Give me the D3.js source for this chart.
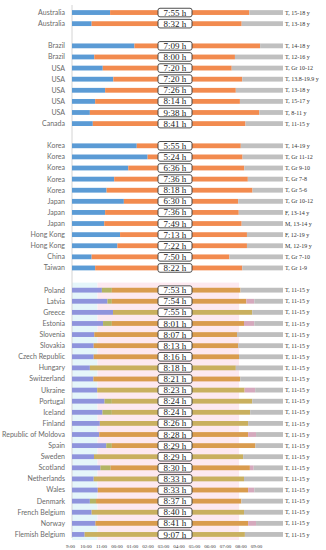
<!DOCTYPE html>
<html>
<head>
<meta charset="utf-8">
<script src="https://cdn.jsdelivr.net/npm/d3@7"></script>
<style>
  body { margin: 0; background: #fff; }
  svg { display: block; }
</style>
</head>
<body>
<svg id="chart"></svg>
<script>
const chartSize = { width: 326, height: 550 };

// rows, top to bottom, grouped (a blank slot between groups)
const groupSizes = [2, 8, 12, 23];
const countries = [
  "Australia", "Australia",
  "Brazil", "Brazil", "USA", "USA", "USA", "USA", "USA", "Canada",
  "Korea", "Korea", "Korea", "Korea", "Korea", "Japan", "Japan", "Japan",
  "Hong Kong", "Hong Kong", "China", "Taiwan",
  "Poland", "Latvia", "Greece", "Estonia", "Slovenia", "Slovakia",
  "Czech Republic", "Hungary", "Switzerland", "Ukraine", "Portugal", "Iceland",
  "Finland", "Republic of Moldova", "Spain", "Sweden", "Scotland", "Netherlands",
  "Wales", "Denmark", "French Belgium", "Norway", "Flemish Belgium"
];
const bedtimes = [
  "23:10", "22:07",
  "00:33", "22:16", "22:45", "23:21", "22:53", "22:19", "22:01", "22:11",
  "00:41", "01:18", "00:12", "23:24", "22:58", "23:57", "22:53", "22:50",
  "23:44", "23:35", "22:07", "22:19",
  "22:42", "23:01", "23:20", "22:46", "22:16", "22:14",
  "22:14", "22:01", "22:13", "22:26", "22:51", "22:44",
  "22:35", "22:33", "22:57", "22:15", "22:37", "22:14",
  "22:28", "22:01", "22:07", "22:20", "21:43"
];
const durations = [
  "7:55", "8:32",
  "7:09", "8:00", "7:20", "7:20", "7:26", "8:14", "9:38", "8:41",
  "5:55", "5:24", "6:36", "7:36", "8:18", "6:30", "7:36", "7:49",
  "7:13", "7:22", "7:50", "8:22",
  "7:53", "7:54", "7:55", "8:01", "8:07", "8:13",
  "8:16", "8:18", "8:21", "8:23", "8:24", "8:24",
  "8:26", "8:28", "8:29", "8:29", "8:30", "8:33",
  "8:33", "8:37", "8:40", "8:41", "9:07"
];
const samples = [
  "T, 15-18 y", "T, 13-18 y",
  "T, 14-18 y", "T, 12-16 y", "T, Gr 10-12", "T, 13.8-19.9 y", "T, 13-18 y",
  "T, 15-17 y", "T, 8-11 y", "T, 11-15 y",
  "T, 14-19 y", "T, Gr 11-12", "T, Gr 9-10", "T, Gr 7-8", "T, Gr 5-6",
  "T, Gr 10-12", "F, 13-14 y", "M, 13-14 y", "F, 12-19 y", "M, 12-19 y",
  "T, Gr 7-10", "T, Gr 1-9",
  ...d3.range(23).map(() => "T, 11-15 y")
];

// european rows only (HBSC block)
const onsetEnds = [
  "23:16", "23:16", null, "23:16", null, null, null, null, null, null, "23:16", "23:16",
  null, null, "23:16", null, "23:12", null, null, "22:22", null, null, null
];
const lateWakeEnds = [
  null, "07:22", null, "07:22", null, null, null, null, null, "07:25", null, null,
  null, "07:28", null, null, "07:20", null, "07:22", null, null, "07:28", null
];
const sleepTone = [
  "a", "a", "b", "a", "a", "a", "a", "b", "a", "b", "b", "b",
  "b", "a", "a", "b", "a", "b", "a", "a", "b", "a", "b"
];

const tickLabels = ["9:00", "10:00", "11:00", "00:00", "01:00", "02:00", "03:00",
  "04:00", "05:00", "06:00", "07:00", "08:00", "09:00"];

const toHours = t => {
  const [h, m] = t.split(":").map(Number);
  return ((h - 21 + 24) % 24) + m / 60;
};
const durHours = t => {
  const [h, m] = t.split(":").map(Number);
  return h + m / 60;
};

const buildRows = () => {
  const rows = [];
  let slot = 0;
  let i = 0;
  groupSizes.forEach((size, g) => {
    for (let k = 0; k < size; k++) {
      const bed = toHours(bedtimes[i]);
      const wake = bed + durHours(durations[i]);
      const row = { slot, country: countries[i], bed, wake, dur: durations[i], sample: samples[i], europe: g === 3 };
      if (row.europe) {
        const e = i - 22;
        row.onsetEnd = onsetEnds[e] && toHours(onsetEnds[e]);
        row.lateEnd = lateWakeEnds[e] && toHours(lateWakeEnds[e]);
        row.tone = sleepTone[e];
      }
      rows.push(row);
      slot++;
      i++;
    }
    slot++;
  });
  return rows;
};

const colors = {
  awake: "#5b9bd5", sleep: "#f28b4f", after: "#c0c0c0",
  euAwake: "#8f94dc", euOnset: "#b3b465", euSleepA: "#d99c4e", euSleepB: "#c9b05f",
  euLate: "#d5a9bd", euAfter: "#bebebe",
  bandCyan: "#e5f6fa", bandPink: "#fde9f0"
};

const draw = () => {
  const rows = buildRows();
  const svg = d3.select("#chart")
    .attr("width", chartSize.width)
    .attr("height", chartSize.height);

  const x = d3.scaleLinear().domain([0, 12]).range([72, 283]);
  const xAxisScale = d3.scaleLinear().domain([0, 12]).range([70, 256]);
  const y = d3.scaleBand().domain(d3.range(48)).range([7, 540]);
  const barH = 4.8;
  const cy = r => y(r.slot) + y.bandwidth() / 2;

  // background bands behind european block
  const euRows = rows.filter(r => r.europe);
  const top = y(euRows[0].slot) - 2;
  const bottom = y(_last(euRows).slot) + y.bandwidth();
  svg.append("rect").attr("x", x(0)).attr("y", top)
    .attr("width", x(1.45) - x(0)).attr("height", bottom - top).attr("fill", colors.bandCyan);
  svg.append("rect").attr("x", x(1.45)).attr("y", top)
    .attr("width", x(9.5) - x(1.45)).attr("height", bottom - top).attr("fill", colors.bandPink);

  // vertical axis line
  svg.append("line")
    .attr("x1", x(0)).attr("x2", x(0))
    .attr("y1", 5).attr("y2", 538)
    .attr("stroke", "#d4d4d4").attr("stroke-width", 1);

  const segmentsOf = r => {
    if (!r.europe) {
      return [
        { a: 0, b: r.bed, c: colors.awake },
        { a: r.bed, b: r.wake, c: colors.sleep },
        { a: r.wake, b: 12, c: colors.after }
      ];
    }
    const segs = [{ a: 0, b: r.bed, c: colors.euAwake }];
    const sleepStart = r.onsetEnd ? r.onsetEnd : r.bed;
    if (r.onsetEnd) segs.push({ a: r.bed, b: r.onsetEnd, c: colors.euOnset });
    segs.push({ a: sleepStart, b: r.wake, c: r.tone === "a" ? colors.euSleepA : colors.euSleepB });
    const afterStart = r.lateEnd ? r.lateEnd : r.wake;
    if (r.lateEnd) segs.push({ a: r.wake, b: r.lateEnd, c: colors.euLate });
    segs.push({ a: afterStart, b: 12, c: colors.euAfter });
    return segs;
  };

  const rowG = svg.append("g").selectAll("g")
    .data(rows)
    .join("g")
    .attr("transform", r => `translate(0,${cy(r)})`);

  rowG.selectAll("rect.seg")
    .data(r => segmentsOf(r))
    .join("rect")
    .attr("class", "seg")
    .attr("x", s => x(s.a))
    .attr("y", -barH / 2)
    .attr("width", s => Math.max(0, x(s.b) - x(s.a)))
    .attr("height", barH)
    .attr("fill", s => s.c);

  rowG.append("text")
    .attr("x", 65)
    .attr("dy", "0.35em")
    .attr("text-anchor", "end")
    .attr("font-family", "Lato, sans-serif")
    .attr("font-size", 7)
    .attr("fill", "#6a6a6a")
    .text(r => r.country);

  rowG.append("rect")
    .attr("x", 158)
    .attr("y", -4.3)
    .attr("width", 34)
    .attr("height", 8.6)
    .attr("rx", 2)
    .attr("fill", "#fff")
    .attr("stroke", "#3a3a3a")
    .attr("stroke-width", 0.9);

  rowG.append("text")
    .attr("x", 175)
    .attr("dy", "0.34em")
    .attr("text-anchor", "middle")
    .attr("font-family", "'Liberation Serif', serif")
    .attr("font-size", 9)
    .attr("fill", "#222")
    .text(r => `${r.dur} h`);

  rowG.append("text")
    .attr("x", 285)
    .attr("dy", "0.35em")
    .attr("font-family", "'Liberation Serif', serif")
    .attr("font-size", 6)
    .attr("fill", "#333")
    .text(r => r.sample);

  const xAxis = d3.axisBottom(xAxisScale)
    .tickValues(d3.range(13))
    .tickFormat((d, i) => tickLabels[i])
    .tickSize(0);

  const axisG = svg.append("g")
    .attr("transform", "translate(0,541)")
    .call(xAxis);
  axisG.select(".domain").remove();
  axisG.selectAll("text")
    .attr("font-family", "'Liberation Serif', serif")
    .attr("font-size", 5)
    .attr("fill", "#333");
};

const _last = arr => arr[arr.length - 1];

window.onload = draw;
</script>
</body>
</html>
